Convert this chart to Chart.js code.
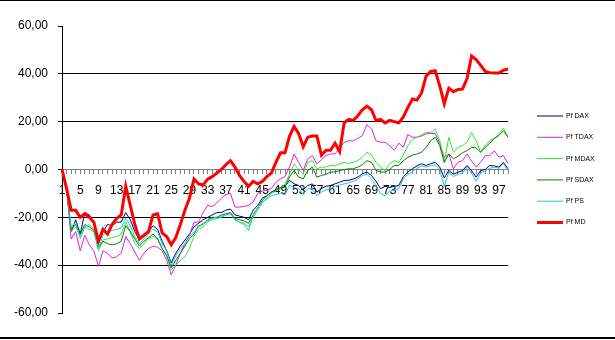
<!DOCTYPE html>
<html>
<head>
<meta charset="utf-8">
<script src="https://cdn.jsdelivr.net/npm/chart.js@4.4.1/dist/chart.umd.min.js"></script>
<style>
  html, body { margin: 0; padding: 0; background: #fff; }
  #wrap { width: 615px; height: 340px; }
</style>
</head>
<body>
<div id="wrap"><canvas id="chart" width="615" height="340"></canvas></div>
<script>
// periods 1..99 on the category axis
const periods = Array.from({ length: 99 }, (_, i) => String(i + 1));

const seriesNames = ['Pf DAX', 'Pf TDAX', 'Pf MDAX', 'Pf SDAX', 'Pf PS', 'Pf MD'];
const seriesColors = ['#000080', '#e020e0', '#33e633', '#008000', '#20c8d8', '#ff0000'];

const pfDAX = [0, -8, -26, -21, -27, -18, -19, -22, -31, -26,
  -23, -23.5, -22, -22, -18, -21, -26, -29.5, -28, -26,
  -23.5, -25, -30, -34, -39, -35, -32, -29.5, -27, -24,
  -22.5, -21, -20, -19, -18, -18, -17, -16.5, -19, -19.5,
  -20, -21, -17, -15, -12, -11, -9.5, -8.5, -8, -7,
  -4.6, -6, -6.7, -8.5, -6.7, -6, -9.5, -8, -7, -6.7,
  -6, -5.3, -4.6, -4.5, -4, -3.2, -1.8, -1.1, -2.5, -5,
  -8, -7, -7.5, -7, -6.7, -3, -1, 0.3, 1.5, 2.4,
  1.7, 2.4, 3, 1, -3.5, -0.4, -2, -1.1, -0.5, 1.7,
  -0.5, -3.2, -0.4, 0, 1.7, 1.5, 1, 3, 0.3];

const pfTDAX = [0, -8, -29, -26, -34, -27.5, -31.5, -34, -40.5, -34,
  -35, -37, -36.5, -35, -28, -31, -34.5, -38, -35, -33,
  -32, -32.5, -34, -38, -44, -40, -35, -31, -27.5, -22,
  -22, -18, -15, -15.5, -14, -12, -10.5, -9.9, -15.7, -15.7,
  -15.5, -15, -13.6, -10, -9, -8.7, -8, -5.3, -3.9, -3,
  1, 6.5, 3, -0.4, 4.5, 5.8, 2.4, 4, 5.8, 6.5,
  6.5, 9, 11.4, 12, 12, 13, 14.2, 18.8, 17, 12,
  11.4, 11.4, 10, 8, 11, 9.3, 14.6, 13.5, 13.5, 14,
  14.9, 15.1, 15, 11, 5, 6.5, 0.3, 3, 3.7, 6.5,
  3.5, 1, 3, 5.8, 5.8, 7.9, 5.1, 5.8, 2.4];

const pfMDAX = [0, -8, -26, -24, -28, -24, -25, -26, -34, -29.5,
  -29, -28.5, -28, -27, -22, -26, -31, -33, -31, -29,
  -28, -29, -33, -36, -42, -40, -38, -36.5, -33, -28,
  -25, -24, -22, -21, -20.5, -20, -19, -18.5, -21, -22,
  -22.5, -24, -20, -17, -14, -12, -10, -9, -8, -6,
  -2, 2.4, 0, -1.8, 3, 3.7, 0.3, 1, 1, 1.7,
  1.5, 2.4, 3, 2.5, 3, 3.7, 5.1, 7.2, 6, 3,
  1, -0.4, 2.4, 3.7, 3, 6, 10, 12.5, 13.5, 14.5,
  15.5, 15.5, 17, 12, 3, 13.5, 7.2, 9.3, 10, 11.4,
  15.5, 12, 7.2, 10, 12, 13, 14.9, 17.4, 13.5];

const pfSDAX = [0, -8, -25, -23, -27, -23, -24, -25.5, -32.5, -30,
  -31, -31.5, -31, -30, -23.5, -26, -29, -32, -30, -28.5,
  -27, -29, -33, -36, -41, -38, -35, -32, -29, -27,
  -23.5, -23, -21, -20, -20, -19, -18.5, -18, -20.5, -21,
  -21.5, -22.5, -19, -16, -13, -11, -9.5, -8.5, -7.5, -7.4,
  -3, -0.4, -3.2, -3.9, -0.4, 1, -3.2, -2.5, -2, -1.1,
  -1, -0.5, 0, 0.3, 0.3, 1, 2, 3.7, 3, -0.4,
  -1, -1.1, 0, 1.7, 1.7, 3.7, 5.1, 6, 6.5, 7.2,
  9.3, 12, 13.5, 10, 3, 6.5, 4.5, 5.5, 7, 7.9,
  9.3, 9, 7.2, 9.3, 11, 13, 14.2, 16.2, 13.5];

const pfPS = [0, -8, -24, -22, -29, -24, -23, -25, -33, -27.5,
  -26, -25.5, -25, -24.5, -20.5, -23.5, -28, -31, -29, -27,
  -25, -26, -31, -34, -40, -36, -33, -31, -28, -26,
  -24, -22.5, -21.5, -20.5, -20, -19.5, -19, -18.5, -21, -22,
  -23, -25.5, -19, -16, -13.5, -12.5, -11, -10.5, -10, -10.5,
  -6.5, -7.5, -8, -10.5, -8, -8, -11, -9.5, -8.5, -8,
  -7, -6.5, -6, -5.5, -5, -4, -2.5, -2, -4, -7,
  -10, -11, -9, -8.5, -8, -4, -2, -1, 0.5, 1.5,
  1, 1.5, 2, 0, -7, -1, -3, -2, -1.5, 1,
  -1.5, -5, -1.5, -0.5, 0.5, 1, 0.5, 2.5, -0.5];

const pfMD = [0, -8, -17, -17, -20, -18.5, -20, -22, -30, -25,
  -27, -23, -20.5, -19, -7, -15, -23, -29, -27.5, -26,
  -19, -18.5, -26.5, -28, -31.5, -28.5, -23, -17, -12, -4,
  -6, -6.5, -4, -3, -1.5, 0, 2, 3.7, 1, -2.5,
  -5, -7, -5, -6, -5, -3, -1.5, 3, 7, 7,
  14, 18, 15, 9.5, 13.5, 14, 14, 6, 8, 8,
  11, 7.5, 19.5, 21, 20.5, 22.5, 25, 26.5, 25, 20.5,
  21, 19.5, 20.5, 20, 19.5, 22, 26, 29.5, 29, 32,
  39, 41, 41.3, 35, 27.5, 34, 32.5, 33.5, 33.6, 38,
  47.5, 46, 43.5, 41, 40.5, 40.3, 40.3, 41.5, 42];

const yTicks = [-60, -40, -20, 0, 20, 40, 60];

const allSeries = [pfDAX, pfTDAX, pfMDAX, pfSDAX, pfPS, pfMD];

const datasets = allSeries.map((values, i) => ({
  label: seriesNames[i],
  data: values,
  borderColor: seriesColors[i],
  backgroundColor: seriesColors[i],
  borderWidth: i === 5 ? 3 : 1,
  pointRadius: 0,
  tension: 0,
  fill: false,
  order: allSeries.length - i
}));

// legend and outer frame drawn by hand, Excel style
const excelLegend = {
  id: 'excelLegend',
  afterDraw(chart) {
    const ctx = chart.ctx;
    ctx.save();
    ctx.fillStyle = '#000';
    ctx.fillRect(0, 0, 615, 1);
    ctx.fillRect(0, 337, 615, 2);
    ctx.font = '7px "Liberation Sans", Arial, sans-serif';
    ctx.textBaseline = 'middle';
    seriesNames.forEach((name, i) => {
      const y = 116 + i * 21.3;
      ctx.strokeStyle = seriesColors[i];
      ctx.lineWidth = i === 5 ? 3 : 1;
      ctx.beginPath();
      ctx.moveTo(537, y);
      ctx.lineTo(563, y);
      ctx.stroke();
      ctx.fillStyle = '#000';
      ctx.fillText(name, 566, y);
    });
    ctx.restore();
  }
};

const axisFont = { family: '"Liberation Sans", Arial, sans-serif', size: 12 };

new Chart(document.getElementById('chart').getContext('2d'), {
  type: 'line',
  data: { labels: periods, datasets: datasets },
  options: {
    responsive: false,
    animation: false,
    layout: { padding: { left: 4, right: 107, top: 26, bottom: 27 } },
    plugins: { legend: { display: false }, tooltip: { enabled: false } },
    scales: {
      x: {
        type: 'category',
        position: { y: 0 },
        offset: false,
        afterFit: scale => { scale.height = 0; },
        grid: { drawOnChartArea: false, drawTicks: true, tickLength: 4, tickColor: '#808080' },
        border: { color: '#808080', width: 1 },
        ticks: {
          autoSkip: false,
          maxRotation: 0,
          minRotation: 0,
          padding: 10,
          color: '#000',
          font: axisFont,
          callback: function(value, index) {
            return index % 4 === 0 ? periods[index] : '';
          }
        }
      },
      y: {
        min: yTicks[0],
        max: yTicks[yTicks.length - 1],
        afterBuildTicks: scale => { scale.ticks = yTicks.map(v => ({ value: v })); },
        grid: {
          color: ctx => (ctx.tick && [-40, -20, 20, 40].includes(ctx.tick.value)) ? '#000' : 'rgba(0,0,0,0)',
          tickColor: '#000',
          tickLength: 4,
          lineWidth: 1
        },
        border: { color: '#000', width: 1 },
        ticks: {
          padding: 10,
          color: '#000',
          font: axisFont,
          callback: v => v.toFixed(2).replace('.', ',')
        }
      }
    }
  },
  plugins: [excelLegend]
});
</script>
</body>
</html>
